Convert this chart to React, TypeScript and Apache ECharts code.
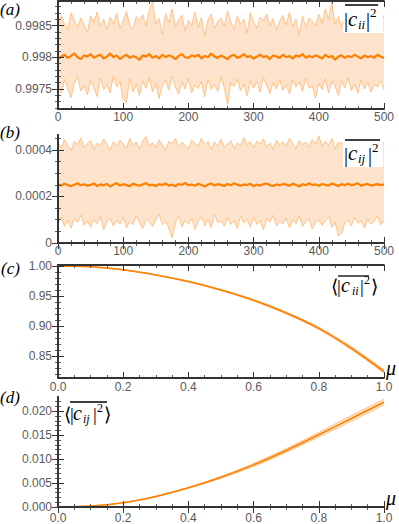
import React, { useEffect, useRef } from "react";
import * as echarts from "echarts";

// ---- Panel (a): |c_ii|^2 traces, sampled every 5 steps (units of 1e-5 above 0.997)
const stepAB = 5;
const upperA = [
  148, 166, 152, 143, 170, 158, 147, 162, 151, 139,
  165, 155, 171, 149, 160, 144, 163, 153, 169, 146,
  157, 172, 150, 145, 164, 158, 167, 149, 174, 188,
  152, 161, 136, 169, 155, 176, 148, 160, 166, 141,
  158, 150, 171, 147, 163, 134, 159, 168, 145, 157,
  162, 149, 173, 156, 144, 165, 152, 160, 138, 170,
  155, 146, 163, 158, 168, 150, 161, 143, 157, 166,
  151, 171, 148, 160, 135, 165, 147, 162, 157, 149,
  168, 153, 176, 160, 186, 152, 164, 147, 170, 155,
  161, 145, 167, 156, 150, 172, 149, 163, 158, 154,
  166,
];
const lowerA = [
  57, 43, 65, 50, 36, 60, 69, 47, 55, 41,
  63, 52, 38, 67, 49, 56, 44, 71, 53, 62,
  33, 29, 66, 45, 58, 40, 63, 51, 68, 46,
  59, 35, 55, 64, 48, 70, 53, 42, 61, 50,
  67, 44, 56, 51, 62, 38, 65, 49, 57, 46,
  69, 52, 25, 60, 54, 66, 47, 58, 39, 63,
  51, 62, 45, 68, 56, 43, 60, 50, 65, 48,
  57, 42, 64, 53, 61, 46, 67, 51, 55, 36,
  59, 49, 66, 44, 62, 54, 40, 63, 52, 68,
  47, 58, 43, 65, 50, 61, 45, 57, 53, 63,
  49,
];
const meanA = [
  97, 101, 104, 99, 102, 106, 100, 97, 103, 101,
  105, 99, 102, 104, 98, 101, 106, 100, 103, 97,
  101, 104, 99, 102, 100, 96, 103, 101, 105, 99,
  102, 98, 104, 100, 103, 101, 97, 102, 105, 100,
  99, 103, 101, 104, 98, 102, 100, 106, 101, 99,
  103, 100, 97, 102, 104, 99, 101, 105, 100, 102,
  98, 101, 104, 100, 102, 97, 103, 101, 99, 104,
  100, 102, 98, 103, 101, 105, 99, 102, 100, 103,
  101, 98, 104, 100, 102, 96, 101, 103, 99, 102,
  100, 104, 101, 98, 103, 100, 102, 99, 104, 101,
  99,
];

// ---- Panel (b): |c_ij|^2 traces (units of 1e-6)
const upperB = [
  432, 408, 445, 419, 397, 436, 425, 452, 410, 428,
  441, 403, 430, 418, 447, 422, 399, 437, 414, 443,
  426, 409, 450, 421, 435, 404, 439, 458, 416, 431,
  411, 444, 424, 398, 438, 427, 449, 413, 433, 420,
  405, 442, 429, 416, 451, 423, 437, 401, 434, 419,
  446, 412, 427, 440, 407, 431, 418, 453, 422, 436,
  409, 439, 425, 448, 414, 430, 403, 443, 421, 436,
  417, 451, 428, 406, 440, 423, 434, 412, 446, 426,
  461, 415, 438, 420, 449, 404, 433, 427, 444, 418,
  431, 409, 447, 425, 436, 413, 442, 421, 430, 452,
  424,
];
const lowerB = [
  85, 110, 72, 98, 64, 104, 88, 120, 76, 95,
  68, 101, 83, 115, 58, 92, 106, 74, 97, 81,
  112, 66, 94, 79, 118, 87, 61, 103, 90, 71,
  99, 124, 78, 93, 62, 22, 85, 117, 70, 96,
  82, 105, 59, 91, 113, 75, 100, 67, 121, 88,
  94, 73, 109, 80, 97, 63, 115, 86, 102, 69,
  111, 79, 96, 57, 104, 89, 119, 74, 92, 83,
  107, 65, 98, 84, 116, 71, 93, 102, 60, 88,
  101, 76, 95, 114, 68, 90, 30, 42, 87, 99,
  73, 110, 85, 96, 64, 103, 80, 92, 118, 78,
  95,
];
const meanB = [
  252, 247, 255, 249, 244, 251, 257, 248, 253, 246,
  250, 256, 245, 252, 248, 254, 243, 251, 258, 247,
  253, 249, 244, 255, 250, 246, 252, 257, 248, 251,
  245, 253, 249, 256, 247, 251, 244, 254, 250, 258,
  248, 252, 246, 255, 249, 243, 251, 256, 247, 253,
  250, 245, 254, 248, 257, 251, 246, 252, 249, 255,
  244, 251, 247, 253, 256, 249, 245, 252, 248, 254,
  251, 246, 255, 250, 243, 253, 248, 257, 249, 252,
  246, 254, 250, 247, 256, 251, 245, 253, 249, 255,
  248, 252, 257, 246, 251, 254, 247, 250, 253, 249,
  252,
];

// ---- Panels (c), (d): averages vs mu
const mu = [0, 0.1, 0.2, 0.3, 0.4, 0.5, 0.6, 0.7, 0.8, 0.9, 1.0];
const meanC = [1.0, 0.9985, 0.9935, 0.985, 0.974, 0.96, 0.943, 0.922, 0.8965, 0.8635, 0.825];
const upperC = [1.0, 0.9987, 0.9939, 0.9856, 0.9748, 0.961, 0.9443, 0.9236, 0.8985, 0.866, 0.828];
const lowerC = [1.0, 0.9983, 0.9931, 0.9844, 0.9732, 0.959, 0.9417, 0.9204, 0.8945, 0.861, 0.822];
const meanD = [0, 0.0002, 0.0009, 0.0022, 0.004, 0.0062, 0.0088, 0.0118, 0.0151, 0.0185, 0.0219];
const upperD = [0, 0.0002, 0.0009, 0.0023, 0.0041, 0.0064, 0.0091, 0.0122, 0.0156, 0.0191, 0.0225];
const lowerD = [0, 0.0002, 0.0009, 0.0021, 0.0039, 0.006, 0.0085, 0.0114, 0.0146, 0.0179, 0.0213];

// ---- tick labels
const xTicksAB = [0, 100, 200, 300, 400, 500];
const yTicksA = [0.9975, 0.998, 0.9985];
const yTicksB = [0, 0.0002, 0.0004];
const xTicksCD = [0, 0.2, 0.4, 0.6, 0.8, 1.0];
const yTicksC = [0.85, 0.9, 0.95, 1.0];
const yTicksD = [0, 0.005, 0.01, 0.015, 0.02];

const ORANGE = "#ff8000";
const EDGE = "#ffb871";
const FILL = "#fde3cc";
const FRAME = "#333333";
const LABEL = "#5a5a5a";

function steps(lo: number, hi: number, step: number): number[] {
  const out: number[] = [];
  const n = Math.round((hi - lo) / step);
  for (let i = 0; i <= n; i++) out.push(+(lo + i * step).toFixed(8));
  return out;
}

function axesFor(
  g: number,
  xr: [number, number],
  yr: [number, number],
  xMaj: number[],
  xMin: number[],
  yMaj: number[],
  yMin: number[],
  xFmt: (v: number) => string,
  yFmt: (v: number) => string,
  xMargin: number
) {
  const frame = { show: true, lineStyle: { color: FRAME, width: 1.8 } };
  const lab = { color: LABEL, fontSize: 12, fontFamily: "Liberation Sans, Arial, sans-serif" };
  const xs: any[] = [];
  const ys: any[] = [];
  for (const pos of ["bottom", "top"]) {
    xs.push({
      type: "value", gridIndex: g, position: pos, min: xr[0], max: xr[1], z: 10,
      axisLine: frame, splitLine: { show: false },
      axisTick: { show: true, inside: true, length: 6, customValues: xMaj, lineStyle: { color: FRAME, width: 1 } },
      axisLabel: pos === "bottom"
        ? { show: true, customValues: xMaj, formatter: xFmt, margin: xMargin, ...lab }
        : { show: false, customValues: xMaj },
    });
    xs.push({
      type: "value", gridIndex: g, position: pos, min: xr[0], max: xr[1], z: 10,
      axisLine: { show: false }, splitLine: { show: false },
      axisTick: { show: true, inside: true, length: 3, customValues: xMin, lineStyle: { color: FRAME, width: 0.8 } },
      axisLabel: { show: false, customValues: xMin },
    });
  }
  for (const pos of ["left", "right"]) {
    ys.push({
      type: "value", gridIndex: g, position: pos, min: yr[0], max: yr[1], z: 10,
      axisLine: frame, splitLine: { show: false },
      axisTick: { show: true, inside: true, length: 6, customValues: yMaj, lineStyle: { color: FRAME, width: 1 } },
      axisLabel: pos === "left"
        ? { show: true, customValues: yMaj, formatter: yFmt, margin: 6, ...lab }
        : { show: false, customValues: yMaj },
    });
    ys.push({
      type: "value", gridIndex: g, position: pos, min: yr[0], max: yr[1], z: 10,
      axisLine: { show: false }, splitLine: { show: false },
      axisTick: { show: true, inside: true, length: 3, customValues: yMin, lineStyle: { color: FRAME, width: 0.8 } },
      axisLabel: { show: false, customValues: yMin },
    });
  }
  return { xs, ys };
}

// band = area under the upper trace (peach) covered by area under the lower trace (white)
function bandSeries(
  g: number,
  xs: number[],
  lower: number[],
  upper: number[],
  mean: number[],
  meanWidth: number,
  edgeWidth: number,
  smooth: number | boolean
) {
  const ax = { xAxisIndex: g * 4, yAxisIndex: g * 4 };
  const common = { type: "line", symbol: "none", silent: true, smooth, ...ax };
  const pairs = (arr: number[]) => arr.map((v, i) => [xs[i], v]);
  return [
    {
      ...common, name: `bandUp${g}`, data: pairs(upper), z: 1,
      lineStyle: { opacity: 0 }, areaStyle: { color: FILL, opacity: 1, origin: "start" },
    },
    {
      ...common, name: `bandLo${g}`, data: pairs(lower), z: 1,
      lineStyle: { opacity: 0 }, areaStyle: { color: "#ffffff", opacity: 1, origin: "start" },
    },
    { ...common, name: `up${g}`, data: pairs(upper), lineStyle: { color: EDGE, width: edgeWidth }, z: 2 },
    { ...common, name: `dn${g}`, data: pairs(lower), lineStyle: { color: EDGE, width: edgeWidth }, z: 2 },
    { ...common, name: `mean${g}`, data: pairs(mean), lineStyle: { color: ORANGE, width: meanWidth }, z: 3 },
  ];
}

const SERIF = "Liberation Serif, Times New Roman, serif";
function txt(x: number, baseline: number, s: string, size: number, italic: boolean) {
  return {
    type: "text", x, y: baseline - 0.34 * size, z: 100,
    style: {
      text: s, fontSize: size, fontFamily: SERIF, fontStyle: italic ? "italic" : "normal",
      fill: "#000", align: "left", verticalAlign: "middle", textAlign: "left", textVerticalAlign: "middle",
    },
  };
}
function overline(x1: number, x2: number, y: number) {
  return { type: "line", z: 100, shape: { x1, y1: y, x2, y2: y }, style: { stroke: "#000", lineWidth: 1.3 } };
}

export default function App() {
  const ref = useRef<HTMLDivElement>(null);
  useEffect(() => {
    if (!ref.current) return;
    const chart = echarts.init(ref.current, null, { renderer: "svg" });

    const xsAB = upperA.map((_, i) => i * stepAB);
    const toA = (u: number) => +(0.997 + u * 1e-5).toFixed(7);
    const toB = (u: number) => +(u * 1e-6).toFixed(8);

    const fmtInt = (v: number) => String(Math.round(v));
    const fmt4 = (v: number) => String(+v.toFixed(4));
    const fmt1 = (v: number) => v.toFixed(1);
    const fmt2 = (v: number) => v.toFixed(2);
    const fmt3 = (v: number) => v.toFixed(3);

    const a = axesFor(0, [0, 500], [0.997185, 0.998886], xTicksAB, steps(0, 500, 20), yTicksA, steps(0.9972, 0.9988, 0.0001), fmtInt, fmt4, 2);
    const b = axesFor(1, [0, 500], [0, 0.0004645], xTicksAB, steps(0, 500, 20), yTicksB, steps(0, 0.00045, 0.00005), fmtInt, fmt4, 2);
    const c = axesFor(2, [0, 1], [0.8142, 1.0015], xTicksCD, steps(0, 1, 0.05), yTicksC, steps(0.82, 1.0, 0.01), fmt1, fmt2, 3);
    const d = axesFor(3, [0, 1], [0, 0.02298], xTicksCD, steps(0, 1, 0.05), yTicksD, steps(0, 0.022, 0.001), fmt1, fmt3, 5);

    const graphics: any[] = [
      txt(0, 15, "(a)", 17, true),
      txt(0, 138, "(b)", 17, true),
      txt(1, 274, "(c)", 17, true),
      txt(0, 403, "(d)", 17, true),
      // (a) label
      { type: "rect", z: 99, shape: { x: 343, y: 2, width: 40, height: 31 }, style: { fill: "#fff" } },
      overline(345, 378, 5),
      txt(344, 27, "|", 20, false),
      txt(348, 26, "c", 21, true),
      txt(358, 29, "ii", 13, true),
      txt(366, 27, "|", 20, false),
      txt(370, 17, "2", 13, false),
      // (b) label
      { type: "rect", z: 99, shape: { x: 343, y: 137, width: 40, height: 30 }, style: { fill: "#fff" } },
      overline(345, 380, 140),
      txt(344, 162, "|", 20, false),
      txt(348, 160, "c", 21, true),
      txt(358, 163, "ij", 13, true),
      txt(368, 162, "|", 20, false),
      txt(372, 152, "2", 13, false),
      // (c) label
      overline(338, 369, 276),
      txt(331, 293, "⟨", 19, false),
      txt(337, 293, "|", 19, false),
      txt(341, 292, "c", 20, true),
      txt(352, 295, "ii", 12, true),
      txt(360, 293, "|", 19, false),
      txt(364, 284, "2", 12, false),
      txt(371, 293, "⟩", 19, false),
      // (d) label
      overline(70, 107, 402),
      txt(64, 421, "⟨", 19, false),
      txt(70, 421, "|", 19, false),
      txt(73, 420, "c", 20, true),
      txt(83, 423, "ij", 12, true),
      txt(93, 421, "|", 19, false),
      txt(97, 412, "2", 12, false),
      txt(104, 421, "⟩", 19, false),
      // mu axis labels
      txt(386, 375, "μ", 20, true),
      txt(386, 505, "μ", 20, true),
    ];

    const option: any = {
      animation: false,
      backgroundColor: "#fff",
      grid: [
        { left: 58, top: 1, width: 326, height: 108 },
        { left: 58, top: 135, width: 326, height: 108 },
        { left: 58, top: 265, width: 326, height: 113 },
        { left: 58, top: 397, width: 326, height: 111 },
      ],
      xAxis: [...a.xs, ...b.xs, ...c.xs, ...d.xs],
      yAxis: [...a.ys, ...b.ys, ...c.ys, ...d.ys],
      series: [
        ...bandSeries(0, xsAB, lowerA.map(toA), upperA.map(toA), meanA.map(toA), 2.2, 0.8, false),
        ...bandSeries(1, xsAB, lowerB.map(toB), upperB.map(toB), meanB.map(toB), 2.2, 0.8, false),
        ...bandSeries(2, mu, lowerC, upperC, meanC, 1.6, 0.8, 0.35),
        ...bandSeries(3, mu, lowerD, upperD, meanD, 1.6, 0.8, 0.35),
      ],
      graphic: graphics,
    };
    chart.setOption(option);
    return () => chart.dispose();
  }, []);
  return <div ref={ref} style={{ position: "absolute", left: 0, top: 0, width: 399, height: 524 }} />;
}
